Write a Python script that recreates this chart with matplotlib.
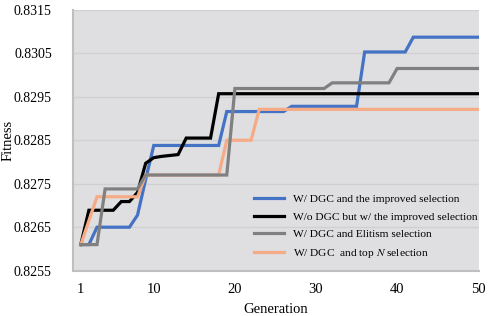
import numpy as np
import matplotlib
matplotlib.use("Agg")
import matplotlib.pyplot as plt
from matplotlib.ticker import FormatStrFormatter

plt.rcParams['font.family'] = ['Liberation Serif', 'DejaVu Serif']
plt.rcParams['mathtext.fontset'] = 'stix'

generations = np.arange(1, 51)

# fitness per generation (values held until the next change)
def held(changes):
    vals = []
    cur = None
    for g in generations:
        if g in changes:
            cur = changes[g]
        vals.append(cur)
    return np.array(vals)

improved_dgc = held({1: 0.8261, 2: 0.8261, 3: 0.8265, 8: 0.82678, 9: 0.8276,
                     10: 0.82838, 19: 0.82916, 27: 0.82928, 36: 0.83053, 42: 0.83087})
improved_no_dgc = held({1: 0.8261, 2: 0.82689, 6: 0.82709, 8: 0.8273, 9: 0.82797,
                        10: 0.8281, 11: 0.82813, 12: 0.82815, 13: 0.82817,
                        14: 0.82855, 18: 0.82957})
elitism_dgc = held({1: 0.8261, 4: 0.82738, 9: 0.8277, 20: 0.82969, 32: 0.82982,
                    40: 0.83015})
topn_dgc = held({1: 0.8261, 2: 0.82665, 3: 0.8272, 9: 0.8277, 19: 0.8285,
                 23: 0.82921})

labels = ["W/ DGC and the improved selection",
          "W/o DGC but w/ the improved selection",
          "W/ DGC and Elitism selection",
          r"W/ DGC  and top $N$ selection"]
colors = ["#4472C4", "#000000", "#808080", "#F5AB86"]
series = [improved_dgc, improved_no_dgc, elitism_dgc, topn_dgc]
zorders = [3, 4, 5, 4.5]

fig = plt.figure(figsize=(4.91, 3.16), dpi=100)
ax = fig.add_axes([0.148, 0.1434, 0.8276, 0.8256])
ax.set_facecolor("#DFDFE1")

for y, c, lab, z in zip(series, colors, labels, zorders):
    ax.plot(generations, y, color=c, lw=2.3, label=lab, zorder=z,
            solid_joinstyle='miter')

ax.set_xlim(0, 50.1)
ax.set_ylim(0.8255, 0.8315)
ax.set_xticks([1, 10, 20, 30, 40, 50])
ax.set_yticks(np.arange(0.8255, 0.83151, 0.001))
ax.yaxis.set_major_formatter(FormatStrFormatter('%.4f'))
ax.tick_params(length=0)
ax.tick_params(axis='y', pad=15, labelsize=10)
ax.tick_params(axis='x', pad=9, labelsize=10.5)
ax.grid(axis='y', color="#D0D0D2", lw=1)
ax.set_axisbelow(True)

for s in ['top', 'right']:
    ax.spines[s].set_visible(False)
for s in ['left', 'bottom']:
    ax.spines[s].set_color("#BFBFBF")
    ax.spines[s].set_linewidth(1.5)

ax.set_xlabel("Generation", fontsize=10.5)
ax.set_ylabel("Fitness", fontsize=10.5)
ax.xaxis.set_label_coords(0.5, -0.122)
ax.yaxis.set_label_coords(-0.142, 0.5)

ax.legend(loc='upper left', bbox_to_anchor=(0.435, 0.31), frameon=False,
          fontsize=8.2, handlelength=2.6, handletextpad=0.8,
          labelspacing=0.66, borderaxespad=0)

fig.savefig("out.png", dpi=100)
